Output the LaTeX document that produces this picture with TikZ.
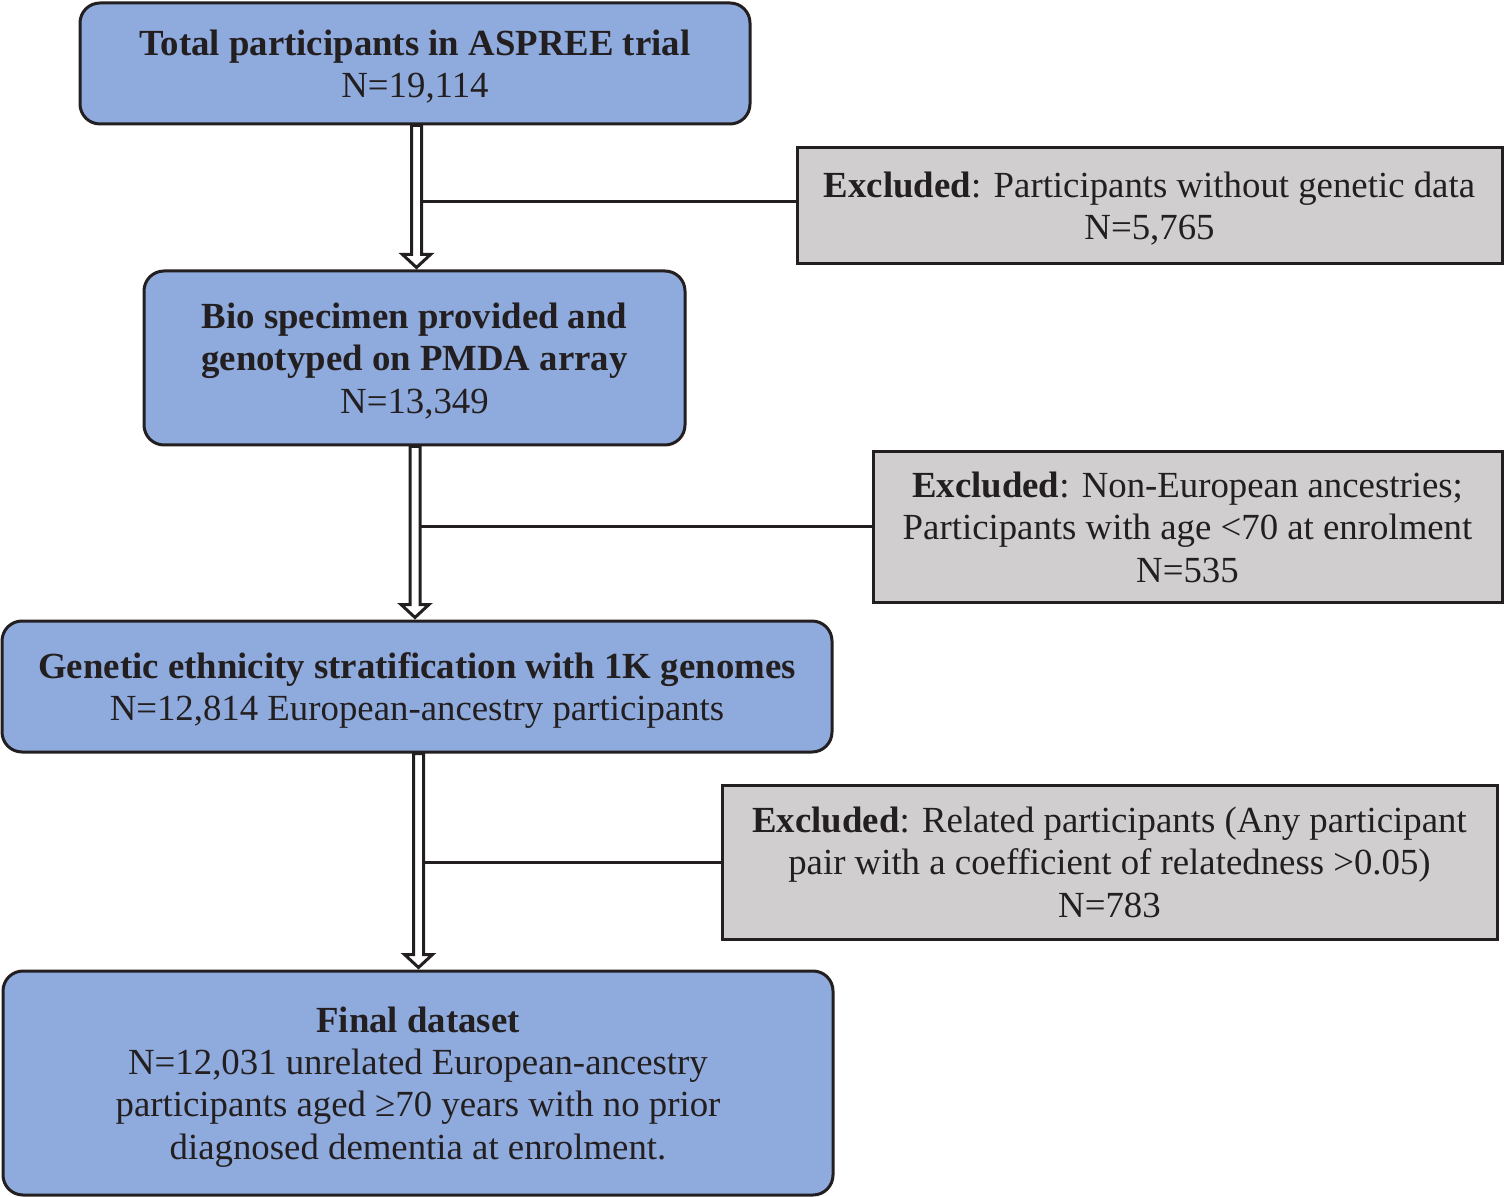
\documentclass[tikz,border=0pt]{standalone}
\usepackage{fontspec}
\setmainfont{Liberation Serif}
\usetikzlibrary{calc}
\definecolor{boxblue}{HTML}{8FAADC}
\definecolor{boxgray}{HTML}{D0CECE}
\definecolor{ink}{HTML}{231F20}
\begin{document}
\begin{tikzpicture}[x=0.5pt,y=-0.5pt,
  txt/.style={font=\fontsize{18.4pt}{21.2pt}\selectfont, text=ink, align=center, inner sep=0pt, text depth=0pt},
  bluebox/.style={txt, draw=ink, line width=1.5pt, fill=boxblue, rounded corners=10pt},
  graybox/.style={txt, draw=ink, line width=1.5pt, fill=boxgray},
  conn/.style={draw=ink, line width=1.5pt},
  harrow/.style={draw=ink, line width=1.5pt, fill=white, line join=miter}]
\useasboundingbox (0,0) rectangle (1504,1197);

\node[bluebox, minimum width=335pt, minimum height=60.5pt] (b1) at (415,63.5)
  {\textbf{Total participants in ASPREE trial}\\N=19,114};
\node[bluebox, minimum width=270.5pt, minimum height=87pt] (b2) at (414.5,358)
  {\textbf{Bio specimen provided and}\\\textbf{genotyped on PMDA array}\\N=13,349};
\node[bluebox, minimum width=415pt, minimum height=65.5pt] (b3) at (417,686.5)
  {\textbf{Genetic ethnicity stratification with 1K genomes}\\N=12,814 European-ancestry participants};
\node[bluebox, minimum width=415pt, minimum height=112pt] (b4) at (418,1083)
  {\textbf{Final dataset}\\N=12,031 unrelated European-ancestry\\participants aged ≥70 years with no prior\\diagnosed dementia at enrolment.};

\node[graybox, minimum width=352.5pt, minimum height=58pt] (e1) at (1149.5,206)
  {\textbf{Excluded}: Participants without genetic data\\N=5,765};
\node[graybox, minimum width=314.5pt, minimum height=75pt] (e2) at (1187.5,527)
  {\textbf{Excluded}: Non-European ancestries;\\Participants with age <70 at enrolment\\N=535};
\node[graybox, minimum width=387.5pt, minimum height=77pt] (e3) at (1109.5,862)
  {\textbf{Excluded}: Related participants (Any participant\\pair with a coefficient of relatedness >0.05)\\N=783};

\coordinate (x1) at (416.5,0);
\coordinate (x2) at (415,0);
\coordinate (x3) at (418.5,0);

% hollow arrows
\foreach \s/\t/\x in {b1/b2/x1, b2/b3/x2, b3/b4/x3}{
  \path[harrow] ($(\x |- \s.south)+(-5,0)$) -- ($(\x |- \t.north)+(-5,-15)$) -- ++(-9,0)
     -- ($(\x |- \t.north)+(0,-2)$) -- ($(\x |- \t.north)+(14,-15)$) -- ++(-9,0)
     -- ($(\x |- \s.south)+(5,0)$) -- cycle;
}

% side connectors
\draw[conn] ([yshift=2pt]e1.west) -- ($([yshift=2pt]e1.west -| x1)+(5,0)$);
\draw[conn] (e2.west) -- ($(e2.west -| x2)+(5,0)$);
\draw[conn] (e3.west) -- ($(e3.west -| x3)+(5,0)$);
\end{tikzpicture}
\end{document}
